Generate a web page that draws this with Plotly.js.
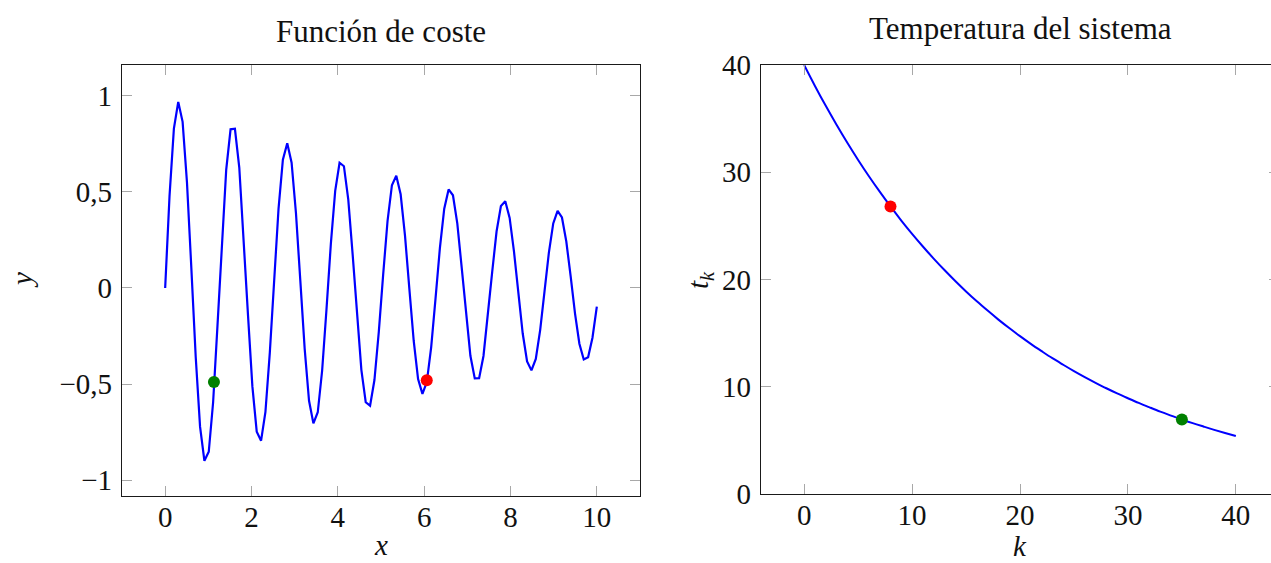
<!DOCTYPE html>
<html>
<head>
<meta charset="utf-8">
<script src="https://cdn.plot.ly/plotly-3.0.1.min.js"></script>
<style>
  html, body { margin: 0; padding: 0; overflow: hidden; background: #fff; }
  #chart { width: 1290px; height: 563px; }
</style>
</head>
<body>
<div id="chart"></div>
<script>
// ---- Left chart: "Función de coste" (100 samples on [0, 10]) ----
const costX = [0,0.101,0.202,0.303,0.404,0.505,0.606,0.707,0.808,0.909,
  1.010,1.111,1.212,1.313,1.414,1.515,1.616,1.717,1.818,1.919,
  2.020,2.121,2.222,2.323,2.424,2.525,2.626,2.727,2.828,2.929,
  3.030,3.131,3.232,3.333,3.434,3.535,3.636,3.737,3.838,3.939,
  4.040,4.141,4.242,4.343,4.444,4.545,4.646,4.747,4.848,4.949,
  5.051,5.152,5.253,5.354,5.455,5.556,5.657,5.758,5.859,5.960,
  6.061,6.162,6.263,6.364,6.465,6.566,6.667,6.768,6.869,6.970,
  7.071,7.172,7.273,7.374,7.475,7.576,7.677,7.778,7.879,7.980,
  8.081,8.182,8.283,8.384,8.485,8.586,8.687,8.788,8.889,8.990,
  9.091,9.192,9.293,9.394,9.495,9.596,9.697,9.798,9.899,10];
const costY = [0,0.479,0.830,0.969,0.865,0.550,0.105,-0.357,-0.722,-0.900,
  -0.853,-0.595,-0.196,0.244,0.615,0.826,0.829,0.627,0.273,-0.141,
  -0.511,-0.748,-0.795,-0.645,-0.338,0.047,0.412,0.668,0.754,0.652,
  0.390,0.038,-0.317,-0.587,-0.705,-0.647,-0.431,-0.112,0.229,0.506,
  0.652,0.634,0.460,0.175,-0.147,-0.426,-0.595,-0.613,-0.479,-0.229,
  0.072,0.350,0.535,0.585,0.488,0.273,-0.005,-0.276,-0.474,-0.551,
  -0.490,-0.309,-0.055,0.207,0.413,0.513,0.483,0.335,0.107,-0.143,
  -0.353,-0.471,-0.470,-0.354,-0.152,0.084,0.294,0.427,0.452,0.365,
  0.189,-0.030,-0.237,-0.382,-0.429,-0.369,-0.219,-0.018,0.184,0.336,
  0.402,0.367,0.242,0.060,-0.133,-0.290,-0.372,-0.360,-0.259,-0.097];
const costGreen = {x: [1.13], y: [-0.49]};
const costRed = {x: [6.06], y: [-0.48]};
const costXTicks = [0,2,4,6,8,10];
const costYTicks = [-1,-0.5,0,0.5,1];
const costYTickText = ["−1","−0,5","0","0,5","1"];

// ---- Right chart: "Temperatura del sistema" ----
const tempK = [0,1,2,3,4,5,6,7,8,9,10,11,12,13,14,15,16,17,18,19,20,21,22,23,24,25,26,27,28,29,30,31,32,33,34,35,36,37,38,39,40];
const tempT = [40,38.05,36.19,34.43,32.75,31.15,29.63,28.19,26.81,25.50,24.26,23.08,21.95,20.88,19.86,18.89,17.97,17.10,16.26,15.47,14.72,14.00,13.32,12.66,12.05,11.46,10.90,10.37,9.86,9.38,8.93,8.49,8.08,7.68,7.31,6.95,6.61,6.29,5.98,5.69,5.41];
const tempRed = {x: [8], y: [26.81]};
const tempGreen = {x: [35], y: [6.95]};
const tempXTicks = [0,10,20,30,40];
const tempYTicks = [0,10,20,30,40];

const BLUE = '#0000ff', RED = '#ff0000', GREEN = '#008000';
const FONT = 'Liberation Serif, Times New Roman, serif';

const traces = [
  {x: costX, y: costY, type: 'scatter', mode: 'lines', line: {color: BLUE, width: 2.2}, xaxis: 'x', yaxis: 'y', hoverinfo: 'skip'},
  {x: costGreen.x, y: costGreen.y, type: 'scatter', mode: 'markers', marker: {color: GREEN, size: 12}, xaxis: 'x', yaxis: 'y'},
  {x: costRed.x, y: costRed.y, type: 'scatter', mode: 'markers', marker: {color: RED, size: 12}, xaxis: 'x', yaxis: 'y'},
  {x: tempK, y: tempT, type: 'scatter', mode: 'lines', line: {color: BLUE, width: 2, shape: 'spline'}, xaxis: 'x2', yaxis: 'y2'},
  {x: tempRed.x, y: tempRed.y, type: 'scatter', mode: 'markers', marker: {color: RED, size: 12}, xaxis: 'x2', yaxis: 'y2'},
  {x: tempGreen.x, y: tempGreen.y, type: 'scatter', mode: 'markers', marker: {color: GREEN, size: 12}, xaxis: 'x2', yaxis: 'y2'}
];

const axisCommon = {
  showgrid: false, zeroline: false,
  showline: true, linecolor: '#1a1a1a', linewidth: 1.2, mirror: 'ticks',
  ticks: 'inside', ticklen: 10, tickwidth: 1, tickcolor: '#a8a8a8',
  tickfont: {family: FONT, size: 29, color: '#111'},
  fixedrange: true
};

const W = 1290, ML = 122, MR = 11, MT = 65, MB = 67, H = 563;
const PW = W - ML - MR, PH = H - MT - MB;
const px = v => (v - ML) / PW;
const py = v => (H - MB - v) / PH;

const layout = {
  width: W, height: H,
  margin: {l: ML, r: MR, t: MT, b: MB, pad: 0},
  paper_bgcolor: '#fff', plot_bgcolor: '#fff',
  showlegend: false,
  font: {family: FONT, color: '#111'},
  xaxis: Object.assign({}, axisCommon, {domain: [0, px(640)], range: [-1, 11], tickvals: costXTicks, anchor: 'y', ticklabelstandoff: -5}),
  yaxis: Object.assign({}, axisCommon, {domain: [0, 1], range: [-1.083, 1.161], tickvals: costYTicks, ticktext: costYTickText, anchor: 'x', ticklabelstandoff: 3}),
  xaxis2: Object.assign({}, axisCommon, {domain: [px(761), 1], range: [-4, 44], tickvals: tempXTicks, anchor: 'y2', ticklabelstandoff: -5}),
  yaxis2: Object.assign({}, axisCommon, {domain: [py(494), 1], range: [0, 40], tickvals: tempYTicks, anchor: 'x2', ticklabelstandoff: 3}),
  annotations: [
    {text: 'Función de coste', xref: 'paper', yref: 'paper', x: px(381), y: py(31), xanchor: 'center', yanchor: 'middle', showarrow: false, font: {family: FONT, size: 31, color: '#111'}},
    {text: 'Temperatura del sistema', xref: 'paper', yref: 'paper', x: px(1020), y: py(29), xanchor: 'center', yanchor: 'middle', showarrow: false, font: {family: FONT, size: 31, color: '#111'}},
    {text: '<i>x</i>', xref: 'paper', yref: 'paper', x: px(381), y: py(545), xanchor: 'center', yanchor: 'middle', showarrow: false, font: {family: FONT, size: 29, color: '#111'}},
    {text: '<i>y</i>', xref: 'paper', yref: 'paper', x: px(22), y: py(280), xanchor: 'center', yanchor: 'middle', textangle: -90, showarrow: false, font: {family: FONT, size: 29, color: '#111'}},
    {text: '<i>k</i>', xref: 'paper', yref: 'paper', x: px(1020), y: py(546), xanchor: 'center', yanchor: 'middle', showarrow: false, font: {family: FONT, size: 29, color: '#111'}},
    {text: '<i>t</i><sub><i>k</i></sub>', xref: 'paper', yref: 'paper', x: px(700), y: py(280), xanchor: 'center', yanchor: 'middle', textangle: -90, showarrow: false, font: {family: FONT, size: 29, color: '#111'}}
  ]
};

Plotly.newPlot('chart', traces, layout, {staticPlot: true, displayModeBar: false});
</script>
</body>
</html>
